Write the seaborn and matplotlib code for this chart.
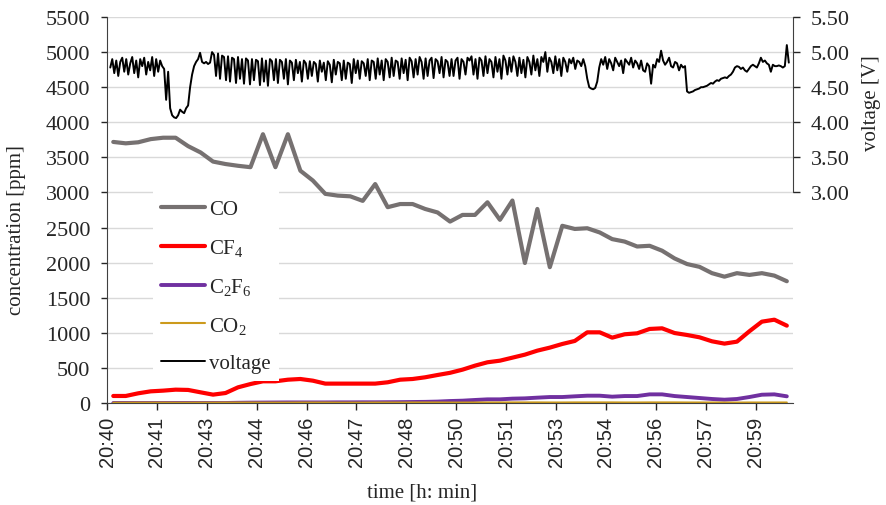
import numpy as np
import pandas as pd
import seaborn as sns
import matplotlib.pyplot as plt

# tick labels on the category axis (one label every 4 samples)
time_labels = ['20:40', '20:41', '20:43', '20:44', '20:46', '20:47', '20:48',
               '20:50', '20:51', '20:53', '20:54', '20:56', '20:57', '20:59']

# gas concentrations [ppm], 55 samples
co = [3720, 3700, 3715, 3760, 3780, 3780, 3660, 3570, 3440, 3405,
      3380, 3360, 3830, 3360, 3830, 3310, 3170, 2980, 2955, 2945,
      2880, 3120, 2790, 2835, 2835, 2765, 2715, 2585, 2680, 2680,
      2860, 2610, 2885, 1995, 2765, 1935, 2525, 2480, 2490, 2430,
      2335, 2300, 2230, 2240, 2170, 2060, 1980, 1940, 1850, 1800,
      1850, 1825, 1850, 1815, 1735]
cf4 = [100, 100, 138, 166, 176, 190, 186, 152, 119, 142,
       223, 270, 309, 309, 332, 342, 318, 276, 276, 276,
       276, 276, 295, 332, 342, 366, 399, 430, 475, 532,
       580, 603, 646, 689, 746, 789, 841, 884, 1007, 1007,
       931, 979, 993, 1055, 1064, 997, 969, 936, 879, 846,
       874, 1022, 1159, 1187, 1102]
c2f6 = [0, 0, 0, 0, 0, 0, 0, 0, 0, 0,
        3, 5, 6, 7, 8, 8, 8, 8, 9, 9,
        10, 10, 11, 12, 14, 16, 20, 28, 33, 43,
        52, 52, 62, 66, 76, 85, 85, 95, 104, 104,
        90, 99, 99, 123, 123, 99, 85, 71, 57, 47,
        57, 85, 118, 123, 95]
co2 = [4, 4, 5, 5, 5, 4, 4, 5, 5, 6,
       6, 6, 5, 5, 5, 6, 6, 6, 5, 5,
       5, 6, 6, 6, 7, 7, 7, 6, 6, 7,
       7, 7, 8, 8, 8, 7, 7, 8, 8, 8,
       8, 7, 7, 8, 8, 8, 7, 7, 7, 6,
       6, 7, 7, 7, 7]

# electrode voltage [V], sampled much more finely than the gases
voltage = [
    # start, noisy
    4.78, 4.90, 4.70, 4.88, 4.66, 4.86, 4.92, 4.72, 4.90, 4.68,
    4.84, 4.93, 4.70, 4.88, 4.64, 4.90, 4.80, 4.92, 4.68, 4.86,
    4.74, 4.93, 4.66, 4.90, 4.72, 4.88, 4.80,
    # sag
    4.76, 4.32, 4.72, 4.20, 4.10, 4.07, 4.06, 4.10, 4.18, 4.15,
    4.13, 4.20, 4.24, 4.50, 4.68, 4.80, 4.86, 4.90, 4.99, 4.86,
    4.84, 4.86, 4.83, 4.85,
    # spiky plateau
    5.00, 4.96, 4.66, 4.98, 4.62, 4.95, 4.93, 4.60, 4.94, 4.58,
    4.92, 4.90, 4.56, 4.93, 4.62, 4.90, 4.55, 4.91, 4.88, 4.54,
    4.90, 4.60, 4.89, 4.87, 4.53, 4.91, 4.58, 4.88, 4.52, 4.90,
    4.87, 4.60, 4.90, 4.56, 4.89, 4.86, 4.62, 4.90, 4.54, 4.88,
    4.85, 4.60, 4.89, 4.70, 4.86, 4.58, 4.88, 4.84, 4.62, 4.87,
    4.66, 4.86, 4.83, 4.58, 4.88, 4.72, 4.85, 4.60, 4.87, 4.82,
    4.57, 4.89, 4.68, 4.86, 4.84, 4.60, 4.88, 4.62, 4.85, 4.83,
    4.56, 4.90, 4.70, 4.88, 4.62, 4.87, 4.84, 4.66, 4.90, 4.60,
    4.88, 4.86, 4.62, 4.91, 4.68, 4.88, 4.60, 4.90, 4.86, 4.64,
    4.92, 4.66, 4.88, 4.86, 4.62, 4.91, 4.70, 4.89, 4.60, 4.92,
    4.87, 4.64, 4.90, 4.68, 4.93, 4.86, 4.62, 4.91, 4.66, 4.88,
    4.92, 4.63, 4.90, 4.87, 4.70, 4.93, 4.64, 4.89, 4.86, 4.66,
    4.90, 4.66, 4.88, 4.92, 4.62, 4.90, 4.86, 4.68, 4.92, 4.88,
    4.94, 4.68, 4.90, 4.62, 4.92, 4.88, 4.66, 4.94, 4.70, 4.90,
    4.86, 4.64, 4.93, 4.72, 4.90, 4.62, 4.95, 4.88, 4.68, 4.92,
    4.72, 4.94, 4.86, 4.66, 4.92, 4.70, 4.89, 4.64, 4.93, 4.86,
    4.68, 4.95, 4.74, 4.90, 4.66, 4.93, 4.86, 5.00, 4.72, 4.92,
    4.86, 4.70, 4.94, 4.74, 4.90, 4.66, 4.92, 4.86, 4.72, 4.90,
    4.84, 4.92, 4.76, 4.88, 4.86, 4.80, 4.90,
    # short dip
    4.80, 4.62, 4.50, 4.48, 4.47, 4.49, 4.58, 4.78,
    4.90, 4.82, 4.93, 4.76, 4.90, 4.84, 4.74, 4.92, 4.86, 4.80,
    4.88, 4.70, 4.90, 4.86, 4.82, 4.92, 4.78, 4.88, 4.84, 4.76,
    4.88, 4.74, 4.72, 4.84, 4.80, 4.55, 4.82, 4.78, 4.90, 4.86,
    5.02, 4.88, 4.82, 4.86, 4.92, 4.80, 4.78, 4.86, 4.84, 4.74,
    4.82, 4.78, 4.80,
    # drop and slow recovery
    4.44, 4.42, 4.43, 4.44, 4.46, 4.47, 4.48, 4.50, 4.50, 4.51,
    4.52, 4.54, 4.56, 4.55, 4.58, 4.60, 4.59, 4.62, 4.63, 4.64,
    4.63, 4.66, 4.68, 4.72, 4.78, 4.80, 4.79, 4.76, 4.78, 4.74,
    4.72, 4.76, 4.80, 4.82, 4.80, 4.78, 4.84, 4.92, 4.86, 4.88,
    4.84, 4.82, 4.72, 4.82, 4.80, 4.80, 4.81, 4.80, 4.78, 4.80,
    5.10, 4.85]

sns.set_style('white')
plt.rcParams['font.family'] = ['Liberation Serif', 'DejaVu Serif']
plt.rcParams['mathtext.default'] = 'regular'

fig = plt.figure(figsize=(8.86, 5.06), dpi=100)
ax = fig.add_axes([0.1208, 0.2016, 0.7743, 0.7628])

gas = pd.DataFrame({'idx': np.arange(len(co)), 'CO': co, 'CF4': cf4,
                    'C2F6': c2f6, 'CO2': co2})
series = [('CO', 'CO', '#767171', 3.0),
          ('CF4', 'CF$_4$', '#ff0000', 3.0),
          ('C2F6', 'C$_2$F$_6$', '#7030a0', 2.8),
          ('CO2', 'CO$_2$', '#cc9a1c', 1.5)]
for col, label, color, lw in series:
    sns.lineplot(data=gas, x='idx', y=col, ax=ax, color=color,
                 linewidth=lw, label=label, solid_joinstyle='round')

ax.set_xlim(-0.5, len(co) - 0.5)
ax.set_ylim(0, 5500)
ax.set_yticks(range(0, 5501, 500))
ax.set_xticks(np.arange(len(time_labels)) * 4 - 0.5)
ax.set_xticklabels(time_labels, rotation=90, family='Liberation Sans', fontsize=14.5)
ax.tick_params(axis='y', left=True, length=4, width=1, pad=8, labelsize=16)
ax.tick_params(axis='x', bottom=True, length=5, width=1, pad=4)
ax.grid(axis='y', color='#d9d9d9', linewidth=1)
ax.set_axisbelow(True)
for s in ['top', 'right']:
    ax.spines[s].set_visible(False)
for s in ['left', 'bottom']:
    ax.spines[s].set_color('#404040')
ax.set_xlabel('time [h: min]', fontsize=15)
ax.set_ylabel('concentration [ppm]', fontsize=15)
ax.xaxis.set_label_coords(0.459, -0.205)
ax.yaxis.set_label_coords(-0.118, 0.45)

ax2 = ax.twinx()
v_x = np.linspace(-0.24, 54.16, len(voltage))
sns.lineplot(x=v_x, y=voltage, ax=ax2, color='black', linewidth=1.4,
             label='voltage', sort=False)
ax2.set_ylim(0, 5.5)
ax2.set_yticks([3.0, 3.5, 4.0, 4.5, 5.0, 5.5])
ax2.yaxis.set_major_formatter('{x:.2f}')
ax2.tick_params(axis='y', right=True, length=5, width=1, pad=8, labelsize=16)
for s in ['top', 'left', 'bottom']:
    ax2.spines[s].set_visible(False)
ax2.spines['right'].set_bounds(3.0, 5.5)
ax2.spines['right'].set_color('#404040')
ax2.set_ylabel('voltage [V]', fontsize=15)
ax2.yaxis.set_label_coords(1.1, 0.78)
ax2.grid(False)

h1, l1 = ax.get_legend_handles_labels()
h2, l2 = ax2.get_legend_handles_labels()
ax.get_legend().remove()
ax2.get_legend().remove()
leg = ax2.legend(h1 + h2, l1 + l2, loc='upper left', bbox_to_anchor=(0.052, 0.575),
                 frameon=True, facecolor='white', edgecolor='none', framealpha=1,
                 fancybox=False, fontsize=15, handlelength=2.1, handletextpad=0.2,
                 labelspacing=0.85, borderpad=0.4)

fig.savefig('out.png', dpi=100)
